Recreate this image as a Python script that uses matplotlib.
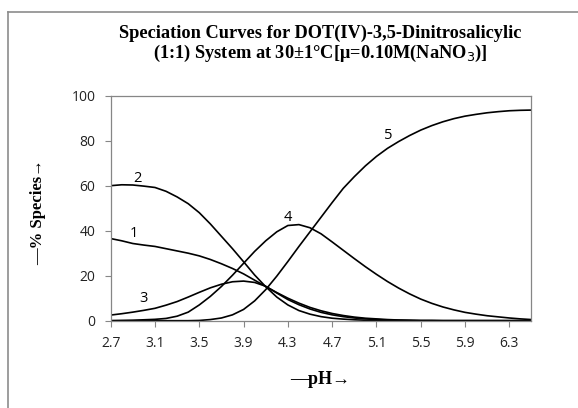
import numpy as np
import matplotlib
matplotlib.use("Agg")
from matplotlib import pyplot as plt
from matplotlib.lines import Line2D

# pH axis (every 0.1 from 2.7 to 6.5)
ph = np.round(np.arange(2.7, 6.55, 0.1), 1)

# % species, one value per pH point
species_1 = [36.5, 35.5, 34.3, 33.6, 33.0, 32.0, 31.0, 30.0, 28.8, 27.2,
             25.3, 23.2, 20.8, 18.0, 15.2, 12.5, 10.0, 7.8, 5.9, 4.4,
             3.2, 2.3, 1.6, 1.1, 0.8, 0.5, 0.3, 0.2, 0.1, 0.1,
             0.0, 0.0, 0.0, 0.0, 0.0, 0.0, 0.0, 0.0, 0.0]
species_2 = [60.0, 60.4, 60.3, 59.8, 59.2, 57.5, 55.0, 52.0, 48.0, 43.0,
             37.5, 32.0, 26.2, 20.3, 15.1, 10.5, 7.0, 4.5, 2.9, 1.8,
             1.1, 0.7, 0.4, 0.2, 0.1, 0.1, 0.0, 0.0, 0.0, 0.0,
             0.0, 0.0, 0.0, 0.0, 0.0, 0.0, 0.0, 0.0, 0.0]
species_3 = [2.5, 3.1, 3.8, 4.6, 5.5, 6.9, 8.5, 10.5, 12.6, 14.6,
             16.2, 17.3, 17.6, 17.0, 15.3, 12.3, 9.4, 7.1, 5.2, 3.7,
             2.6, 1.8, 1.2, 0.8, 0.5, 0.3, 0.2, 0.1, 0.0, 0.0,
             0.0, 0.0, 0.0, 0.0, 0.0, 0.0, 0.0, 0.0, 0.0]
species_4 = [0.0, 0.1, 0.2, 0.4, 0.6, 1.0, 2.0, 3.8, 7.0, 10.8,
             15.2, 20.2, 25.5, 30.8, 35.5, 39.5, 42.3, 42.7, 41.3, 38.6,
             35.0, 31.3, 27.6, 24.0, 20.6, 17.4, 14.5, 11.9, 9.6, 7.7,
             6.1, 4.8, 3.7, 2.9, 2.2, 1.7, 1.2, 0.8, 0.5]
species_5 = [0.0, 0.0, 0.0, 0.0, 0.0, 0.0, 0.0, 0.0, 0.1, 0.5,
             1.2, 2.6, 5.0, 8.8, 13.8, 19.8, 26.3, 33.0, 39.5, 46.0,
             52.5, 58.8, 64.0, 68.8, 73.0, 76.6, 79.6, 82.3, 84.7, 86.7,
             88.4, 89.8, 90.9, 91.7, 92.4, 92.9, 93.3, 93.5, 93.6]

curve_labels = ["1", "2", "3", "4", "5"]
label_ph = [2.91, 2.94, 3.0, 4.30, 5.21]
label_pct = [38.8, 63.0, 10.0, 45.8, 82.2]

x_ticks = [2.7, 3.1, 3.5, 3.9, 4.3, 4.7, 5.1, 5.5, 5.9, 6.3]
y_ticks = [0, 20, 40, 60, 80, 100]

GRAY = "#868686"
W, H = 578, 408

fig = plt.figure(figsize=(5.78, 4.08), dpi=100)
ax = fig.add_axes([0.1915, 0.214, 0.728, 0.5515])

for series in [species_1, species_2, species_3, species_4, species_5]:
    ax.plot(ph, series, color="black", lw=1.2, solid_joinstyle="round")

for txt, xl, yl in zip(curve_labels, label_ph, label_pct):
    ax.text(xl, yl, txt, fontsize=10.5, family="Open Sans", ha="center", va="center")

ax.set_xlim(2.7, 6.5)
ax.set_ylim(0, 100)
ax.set_xticks(x_ticks)
ax.set_xticklabels([f"{v:.1f}" for v in x_ticks])
ax.set_yticks(y_ticks)
ax.tick_params(axis="both", direction="out", length=4, width=0.8, color=GRAY,
               labelsize=10, pad=7)
ax.tick_params(axis="x", pad=7)
for lbl in ax.get_xticklabels() + ax.get_yticklabels():
    lbl.set_family("Open Sans")
    lbl.set_color("#222222")
for sp in ax.spines.values():
    sp.set_color(GRAY)
    sp.set_linewidth(0.9)

# axis titles
fig.text(320 / W, 1 - 380 / H, "\u2014pH\u2192", ha="center", va="center",
         family="Liberation Serif", fontweight="bold", fontsize=13)
fig.text(38 / W, 1 - 212 / H, "\u2014% Species\u2192", ha="center", va="center",
         rotation=90, family="Liberation Serif", fontweight="bold", fontsize=12)

# chart title
fig.text(320 / W, 1 - 33 / H, "Speciation Curves for DOT(IV)-3,5-Dinitrosalicylic",
         ha="center", va="center", family="Liberation Serif", fontweight="bold", fontsize=13.2)
fig.text(320 / W, 1 - 53 / H, "(1:1) System at 30\u00b11\u00b0C[\u03bc=0.10M(NaNO$_3$)]",
         ha="center", va="center", family="Liberation Serif", fontweight="bold", fontsize=13.2)

# chart area frame (top and left edges visible)
fig.add_artist(Line2D([8 / W, 1.0], [1 - 12 / H, 1 - 12 / H],
                      transform=fig.transFigure, color="#8c8c8c", lw=1.2))
fig.add_artist(Line2D([8 / W, 8 / W], [0.0, 1 - 12 / H],
                      transform=fig.transFigure, color="#8c8c8c", lw=1.2))

fig.savefig("out.png", dpi=100)
